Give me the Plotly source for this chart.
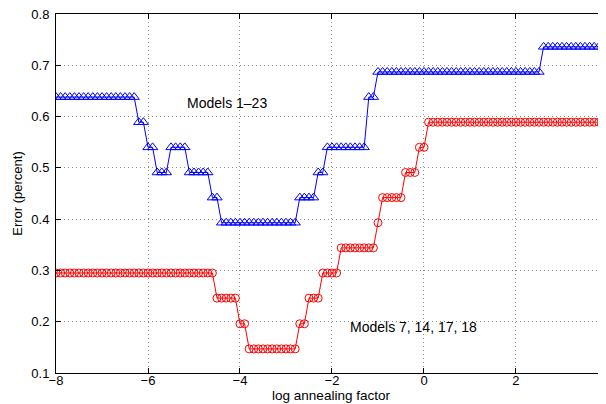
import plotly.graph_objects as go

# log annealing factor sampled every 0.1
log_factor = [
    -8.0, -7.9, -7.8, -7.7, -7.6, -7.5, -7.4, -7.3, -7.2, -7.1,
    -7.0, -6.9, -6.8, -6.7, -6.6, -6.5, -6.4, -6.3, -6.2, -6.1,
    -6.0, -5.9, -5.8, -5.7, -5.6, -5.5, -5.4, -5.3, -5.2, -5.1,
    -5.0, -4.9, -4.8, -4.7, -4.6, -4.5, -4.4, -4.3, -4.2, -4.1,
    -4.0, -3.9, -3.8, -3.7, -3.6, -3.5, -3.4, -3.3, -3.2, -3.1,
    -3.0, -2.9, -2.8, -2.7, -2.6, -2.5, -2.4, -2.3, -2.2, -2.1,
    -2.0, -1.9, -1.8, -1.7, -1.6, -1.5, -1.4, -1.3, -1.2, -1.1,
    -1.0, -0.9, -0.8, -0.7, -0.6, -0.5, -0.4, -0.3, -0.2, -0.1,
    0.0, 0.1, 0.2, 0.3, 0.4, 0.5, 0.6, 0.7, 0.8, 0.9,
    1.0, 1.1, 1.2, 1.3, 1.4, 1.5, 1.6, 1.7, 1.8, 1.9,
    2.0, 2.1, 2.2, 2.3, 2.4, 2.5, 2.6, 2.7, 2.8, 2.9,
    3.0, 3.1, 3.2, 3.3, 3.4, 3.5, 3.6, 3.7, 3.8, 3.9,
    4.0,
]

# Models 1-23 (blue triangles)
error_models_1_23 = [
    0.638, 0.638, 0.638, 0.638, 0.638, 0.638, 0.638, 0.638, 0.638, 0.638,
    0.638, 0.638, 0.638, 0.638, 0.638, 0.638, 0.638, 0.638, 0.589, 0.589,
    0.540, 0.540, 0.491, 0.491, 0.491, 0.540, 0.540, 0.540, 0.540, 0.491,
    0.491, 0.491, 0.491, 0.491, 0.442, 0.442, 0.393, 0.393, 0.393, 0.393,
    0.393, 0.393, 0.393, 0.393, 0.393, 0.393, 0.393, 0.393, 0.393, 0.393,
    0.393, 0.393, 0.393, 0.442, 0.442, 0.442, 0.442, 0.491, 0.491, 0.540,
    0.540, 0.540, 0.540, 0.540, 0.540, 0.540, 0.540, 0.540, 0.638, 0.638,
    0.687, 0.687, 0.687, 0.687, 0.687, 0.687, 0.687, 0.687, 0.687, 0.687,
    0.687, 0.687, 0.687, 0.687, 0.687, 0.687, 0.687, 0.687, 0.687, 0.687,
    0.687, 0.687, 0.687, 0.687, 0.687, 0.687, 0.687, 0.687, 0.687, 0.687,
    0.687, 0.687, 0.687, 0.687, 0.687, 0.687, 0.736, 0.736, 0.736, 0.736,
    0.736, 0.736, 0.736, 0.736, 0.736, 0.736, 0.736, 0.736, 0.736, 0.736,
    0.736,
]

# Models 7, 14, 17, 18 (red circles)
error_models_7_14_17_18 = [
    0.295, 0.295, 0.295, 0.295, 0.295, 0.295, 0.295, 0.295, 0.295, 0.295,
    0.295, 0.295, 0.295, 0.295, 0.295, 0.295, 0.295, 0.295, 0.295, 0.295,
    0.295, 0.295, 0.295, 0.295, 0.295, 0.295, 0.295, 0.295, 0.295, 0.295,
    0.295, 0.295, 0.295, 0.295, 0.295, 0.246, 0.246, 0.246, 0.246, 0.246,
    0.196, 0.196, 0.147, 0.147, 0.147, 0.147, 0.147, 0.147, 0.147, 0.147,
    0.147, 0.147, 0.147, 0.196, 0.196, 0.246, 0.246, 0.246, 0.295, 0.295,
    0.295, 0.295, 0.344, 0.344, 0.344, 0.344, 0.344, 0.344, 0.344, 0.344,
    0.393, 0.442, 0.442, 0.442, 0.442, 0.442, 0.491, 0.491, 0.491, 0.540,
    0.540, 0.589, 0.589, 0.589, 0.589, 0.589, 0.589, 0.589, 0.589, 0.589,
    0.589, 0.589, 0.589, 0.589, 0.589, 0.589, 0.589, 0.589, 0.589, 0.589,
    0.589, 0.589, 0.589, 0.589, 0.589, 0.589, 0.589, 0.589, 0.589, 0.589,
    0.589, 0.589, 0.589, 0.589, 0.589, 0.589, 0.589, 0.589, 0.589, 0.589,
    0.589,
]

x_tick_values = [-8, -6, -4, -2, 0, 2, 4]
y_tick_values = [0.1, 0.2, 0.3, 0.4, 0.5, 0.6, 0.7, 0.8]
y_tick_labels = ["0.1", "0.2", "0.3", "0.4", "0.5", "0.6", "0.7", "0.8"]

FONT = "Liberation Sans, Arial, Helvetica, sans-serif"

fig = go.Figure()
fig.add_trace(go.Scatter(
    x=log_factor, y=error_models_1_23, mode="lines+markers",
    name="Models 1–23",
    line=dict(color="#0000ff", width=1),
    marker=dict(symbol="triangle-up-open", size=9, color="#0000ff",
                line=dict(width=1, color="#0000ff")),
))
fig.add_trace(go.Scatter(
    x=log_factor, y=error_models_7_14_17_18, mode="lines+markers",
    name="Models 7, 14, 17, 18",
    line=dict(color="#ff0000", width=1),
    marker=dict(symbol="circle-open", size=8, color="#ff0000",
                line=dict(width=1, color="#ff0000")),
))

fig.add_annotation(x=-5.2, y=0.627, text="Models 1–23", showarrow=False,
                   xanchor="left", yanchor="middle",
                   font=dict(family=FONT, size=14, color="black"))
fig.add_annotation(x=-1.65, y=0.19, text="Models 7, 14, 17, 18", showarrow=False,
                   xanchor="left", yanchor="middle",
                   font=dict(family=FONT, size=14, color="black"))

axis_common = dict(
    showline=True, linecolor="black", linewidth=1, mirror="ticks",
    ticks="inside", ticklen=5, tickcolor="black", tickwidth=1,
    showgrid=True, gridcolor="#8c8c8c", griddash="1px,3px", gridwidth=1,
    zeroline=False, automargin=False, ticklabeloverflow="allow",
    tickfont=dict(family=FONT, size=13, color="black"),
)

fig.update_xaxes(
    range=[-8, 3.957], tickmode="array", tickvals=x_tick_values,
    ticklabelstandoff=-5,
    title=dict(text="log annealing factor", standoff=3,
               font=dict(family=FONT, size=13.5, color="black")),
    **axis_common,
)
fig.update_yaxes(
    range=[0.1, 0.8], tickmode="array", tickvals=y_tick_values,
    ticktext=y_tick_labels, ticklabelstandoff=3,
    title=dict(text="Error (percent)", standoff=5,
               font=dict(family=FONT, size=13, color="black")),
    **axis_common,
)

# the page body adds an 8 px offset, so the figure is 8 px smaller
fig.update_layout(
    width=598, height=396,
    margin=dict(l=48, r=0, t=6, b=31),
    plot_bgcolor="white", paper_bgcolor="white",
    showlegend=False,
    font=dict(family=FONT, color="black"),
)

fig.write_html("out.html")
